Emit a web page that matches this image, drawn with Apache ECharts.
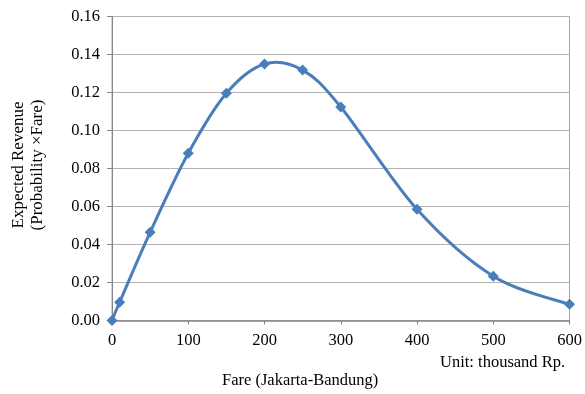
<!DOCTYPE html>
<html><head><meta charset="utf-8">
<script src="https://cdn.jsdelivr.net/npm/echarts@6/dist/echarts.min.js"></script>
<style>html,body{margin:0;padding:0;background:#fff}#c{width:585px;height:394px}</style>
</head><body><div id="c"></div>
<script>
var fares = [0, 10, 50, 100, 150, 200, 250, 300, 400, 500, 600];
var revenue = [0, 0.0096, 0.0464, 0.088, 0.1196, 0.135, 0.1318, 0.1124, 0.0585, 0.0233, 0.0085];
var xTicks = [0, 100, 200, 300, 400, 500, 600];
var yTicks = [0, 0.02, 0.04, 0.06, 0.08, 0.10, 0.12, 0.14, 0.16];

var font = 'Liberation Serif';
var lineColor = '#4a7ebb';
var points = fares.map(function (f, i) { return [f, revenue[i]]; });

function renderSpline(params, api) {
  var p = points.map(function (d) { return api.coord(d); });
  var n = p.length, t = 1 / 6;
  var d = 'M' + p[0][0] + ' ' + p[0][1];
  for (var i = 0; i < n - 1; i++) {
    var p0 = p[i > 0 ? i - 1 : i], p1 = p[i], p2 = p[i + 1], p3 = p[i + 2 < n ? i + 2 : i + 1];
    var c1x = p1[0] + (p2[0] - p0[0]) * t, c1y = p1[1] + (p2[1] - p0[1]) * t;
    var c2x = p2[0] - (p3[0] - p1[0]) * t, c2y = p2[1] - (p3[1] - p1[1]) * t;
    d += ' C' + c1x + ' ' + c1y + ' ' + c2x + ' ' + c2y + ' ' + p2[0] + ' ' + p2[1];
  }
  return {type: 'path', shape: {pathData: d}, style: {stroke: lineColor, lineWidth: 3, fill: null}};
}

var chart = echarts.init(document.getElementById('c'));
chart.setOption({
  animation: false,
  grid: {left: 112, right: 15.5, top: 16.5, bottom: 73.5, show: true, borderColor: '#a6a6a6', borderWidth: 1},
  xAxis: {
    type: 'value', min: 0, max: 600, interval: 100,
    axisLine: {show: true, lineStyle: {color: '#868686', width: 1.5}},
    axisTick: {show: true, inside: false, length: 4, lineStyle: {color: '#868686'}},
    splitLine: {show: false},
    axisLabel: {color: '#000', fontFamily: font, fontSize: 16.5, margin: 12},
  },
  yAxis: {
    type: 'value', min: 0, max: 0.16, interval: 0.02,
    axisLine: {show: true, lineStyle: {color: '#868686', width: 1}},
    axisTick: {show: true, inside: false, length: 5, lineStyle: {color: '#868686'}},
    splitLine: {show: true, lineStyle: {color: '#b3b3b3', width: 1}},
    axisLabel: {color: '#000', fontFamily: font, fontSize: 16.5, margin: 12,
      formatter: function (v) { return v.toFixed(2); }},
  },
  graphic: [
    {type: 'text', left: 440, top: 354, style: {text: 'Unit: thousand Rp.', fontFamily: font, fontSize: 16.5, fill: '#000'}},
    {type: 'text', left: 222, top: 372, style: {text: 'Fare (Jakarta-Bandung)', fontFamily: font, fontSize: 16.5, fill: '#000'}},
    {type: 'text', x: 28, y: 165, rotation: Math.PI / 2,
      style: {text: 'Expected Revenue\n(Probability \u00d7Fare)', fontFamily: font, fontSize: 17, lineHeight: 19, fill: '#000', align: 'center', verticalAlign: 'middle'}}
  ],
  series: [{
    type: 'custom',
    renderItem: renderSpline,
    data: [[0, 0]],
    clip: false,
    silent: true,
    z: 2
  }, {
    type: 'scatter',
    data: points,
    symbol: 'diamond', symbolSize: 11,
    itemStyle: {color: lineColor, opacity: 1},
    z: 3
  }]
});
</script></body></html>
